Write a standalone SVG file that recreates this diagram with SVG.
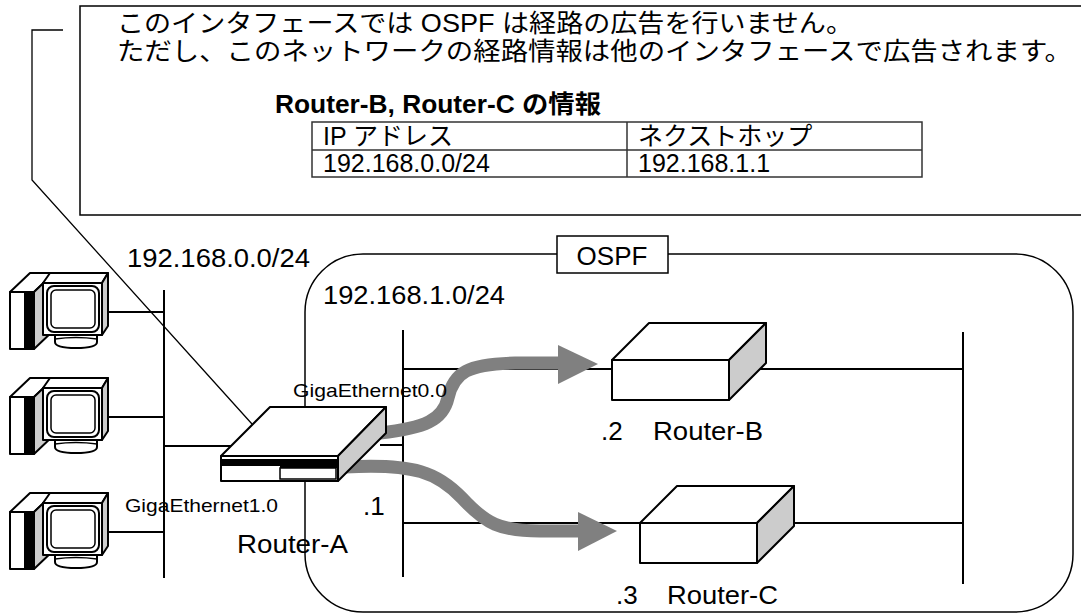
<svg xmlns="http://www.w3.org/2000/svg" width="1081" height="616" viewBox="0 0 1081 616">
  <defs>
    <style>
      text { font-family: "Liberation Sans", "Noto Sans CJK JP", sans-serif; fill: #000; }
      .jp { font-size: 25px; }
      .lbl { font-size: 26px; }
      .small { font-size: 19px; }
      .title { font-size: 25px; font-weight: bold; }
      .cell { font-size: 25px; }
      .net { stroke: #000; stroke-width: 2; fill: none; }
      .thin { stroke: #000; stroke-width: 1.3; fill: none; }
      .frame { stroke: #000; stroke-width: 1.5; fill: #fff; }
      .grid { stroke: #333; stroke-width: 1.5; fill: none; }
      .face { fill: #fff; stroke: #000; stroke-width: 2; stroke-linejoin: round; }
      .side { fill: #ccc; stroke: #000; stroke-width: 2; stroke-linejoin: round; }
      .flow { fill: none; stroke: #808080; stroke-width: 13; }
      .head { fill: #808080; }
    </style>
    <!-- desktop PC: tower + monitor -->
    <g id="pc-icon">
      <polygon class="face" points="10,292 30,273 54,273 34,292"/>
      <polygon class="side" points="34,292 54,273 54,330 34,349"/>
      <rect class="face" x="10" y="292" width="24" height="57"/>
      <rect x="24" y="292" width="10" height="57" fill="#000"/>
      <polygon class="face" points="43,283 50,273 108,273 102,283"/>
      <polygon class="side" points="102,283 108,273 108,326 102,335"/>
      <rect class="face" x="43" y="283" width="59" height="52"/>
      <rect x="47" y="286" width="52" height="46" rx="7" fill="none" stroke="#000" stroke-width="2"/>
      <rect x="51" y="290" width="44" height="38" rx="5" fill="none" stroke="#000" stroke-width="1.5"/>
      <path class="face" d="M55 335 L55 342 Q55 348 76 348 Q97 348 97 342 L97 335 Z"/>
      <path class="thin" d="M55 339 Q76 336 97 339"/>
    </g>
  </defs>

  <rect x="0" y="0" width="1081" height="616" fill="#fff"/>

  <!-- OSPF area -->
  <g id="ospf-area">
    <rect x="305" y="254" width="768" height="358" rx="58" ry="58" fill="none" stroke="#000" stroke-width="1.5"/>
    <rect x="557" y="236" width="111" height="37" class="frame"/>
    <text class="lbl" x="612" y="265" text-anchor="middle">OSPF</text>
  </g>

  <!-- note callout -->
  <g id="note">
    <polyline class="thin" points="63,30 32,30 32,180 252,424"/>
    <rect x="80" y="6" width="1020" height="209" class="frame"/>
    <text class="jp" x="117" y="32" textLength="736" lengthAdjust="spacingAndGlyphs">このインタフェースでは OSPF は経路の広告を行いません。</text>
    <text class="jp" x="117" y="60" textLength="955" lengthAdjust="spacingAndGlyphs">ただし、このネットワークの経路情報は他のインタフェースで広告されます。</text>
    <text class="title" x="275" y="113" textLength="326" lengthAdjust="spacingAndGlyphs">Router-B, Router-C の情報</text>
    <g id="route-table">
      <rect class="grid" x="312" y="122" width="610" height="55"/>
      <line class="grid" x1="312" y1="150" x2="922" y2="150"/>
      <line class="grid" x1="627" y1="122" x2="627" y2="177"/>
      <text class="cell" x="323" y="145">IP アドレス</text>
      <text class="cell" x="638" y="145">ネクストホップ</text>
      <text class="cell" x="323" y="172">192.168.0.0/24</text>
      <text class="cell" x="638" y="172">192.168.1.1</text>
    </g>
  </g>

  <!-- connectors: LAN segments and links -->
  <g id="connectors">
    <line class="net" x1="164" y1="290" x2="164" y2="578"/>
    <line class="net" x1="108" y1="312" x2="164" y2="312"/>
    <line class="net" x1="108" y1="417" x2="164" y2="417"/>
    <line class="net" x1="108" y1="532" x2="164" y2="532"/>
    <line class="net" x1="164" y1="446" x2="232" y2="446"/>
    <line class="net" x1="403" y1="330" x2="403" y2="577"/>
    <line class="net" x1="380" y1="445" x2="403" y2="445"/>
    <line class="net" x1="403" y1="369" x2="963" y2="369"/>
    <line class="net" x1="403" y1="523" x2="963" y2="523"/>
    <line class="net" x1="963" y1="332" x2="963" y2="584"/>
  </g>

  <!-- route advertisement flows -->
  <g id="flows">
    <path class="flow" d="M380 433 C425 428 443 420 448 398 C454 372 468 364 515 363 L560 363"/>
    <polygon class="head" points="558,345 598,364 558,384"/>
    <path class="flow" d="M345 467 C415 463 438 473 462 498 C486 524 500 531 540 531 L580 531"/>
    <polygon class="head" points="578,512 617,531 578,551"/>
  </g>

  <g id="pc-1"><use href="#pc-icon"/></g>
  <g id="pc-2"><use href="#pc-icon" transform="translate(0,105)"/></g>
  <g id="pc-3"><use href="#pc-icon" transform="translate(0,220)"/></g>

  <g id="router-a">
    <polygon class="face" points="221,456 270,407 386,407 338,456"/>
    <polygon class="side" points="338,456 386,407 386,433 338,481"/>
    <rect class="face" x="221" y="456" width="117" height="25"/>
    <rect x="222" y="459" width="115" height="7" fill="#000"/>
    <rect x="280" y="459" width="57" height="9" fill="#000"/>
    <rect x="280" y="468" width="56" height="11" fill="#fff" stroke="#000" stroke-width="1.5"/>
  </g>

  <g id="router-b">
    <polygon class="face" points="612,360 649,323 766,323 729,360"/>
    <polygon class="side" points="729,360 766,323 766,363 729,400"/>
    <rect class="face" x="612" y="360" width="117" height="40"/>
  </g>

  <g id="router-c">
    <polygon class="face" points="640,523 677,486 794,486 757,523"/>
    <polygon class="side" points="757,523 794,486 794,526 757,563"/>
    <rect class="face" x="640" y="523" width="117" height="40"/>
  </g>

  <g id="labels">
    <text class="lbl" x="127" y="267" textLength="183" lengthAdjust="spacingAndGlyphs">192.168.0.0/24</text>
    <text class="lbl" x="323" y="304" textLength="182" lengthAdjust="spacingAndGlyphs">192.168.1.0/24</text>
    <text class="small" x="293" y="397" textLength="154" lengthAdjust="spacingAndGlyphs">GigaEthernet0.0</text>
    <text class="small" x="125" y="512" textLength="153" lengthAdjust="spacingAndGlyphs">GigaEthernet1.0</text>
    <text class="lbl" x="363" y="515">.1</text>
    <text class="lbl" x="237" y="553" textLength="111" lengthAdjust="spacingAndGlyphs">Router-A</text>
    <text class="lbl" x="601" y="440">.2</text>
    <text class="lbl" x="653" y="440" textLength="110" lengthAdjust="spacingAndGlyphs">Router-B</text>
    <text class="lbl" x="616" y="604">.3</text>
    <text class="lbl" x="667" y="604" textLength="111" lengthAdjust="spacingAndGlyphs">Router-C</text>
  </g>
</svg>
